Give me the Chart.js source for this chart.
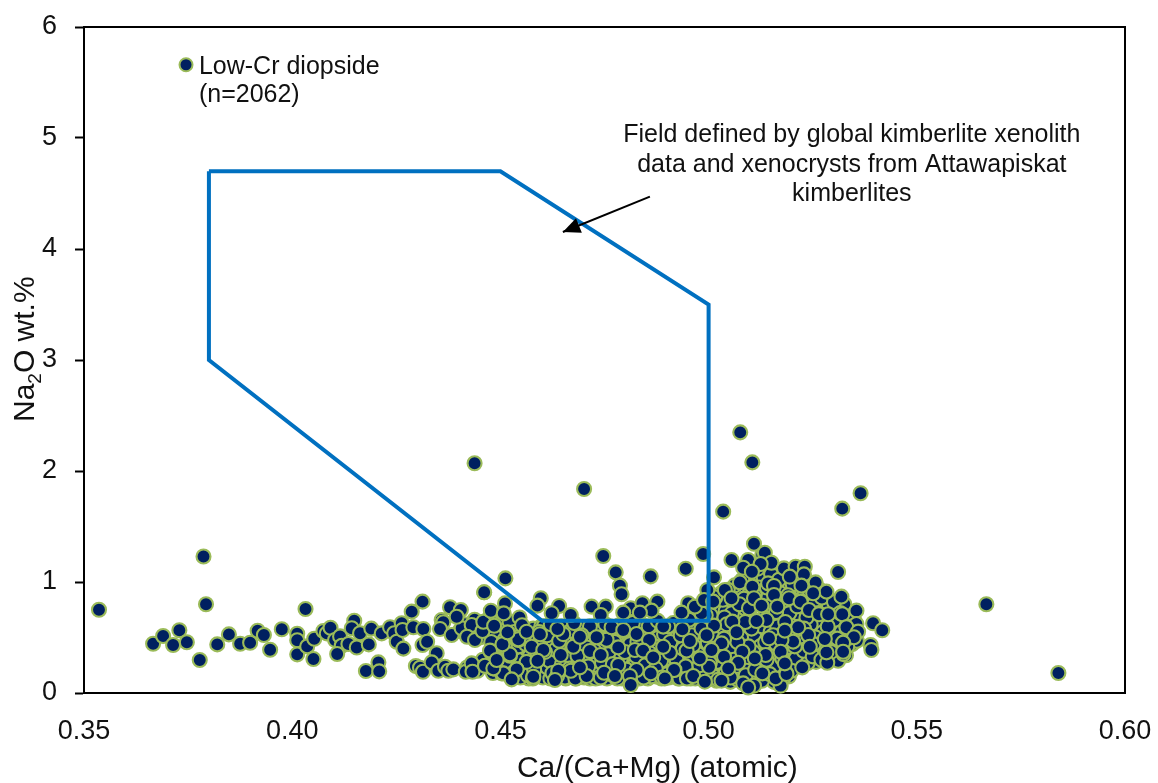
<!DOCTYPE html>
<html>
<head>
<meta charset="utf-8">
<title>Low-Cr diopside</title>
<script src="https://cdn.jsdelivr.net/npm/chart.js@4/dist/chart.umd.min.js"></script>
<style>
  html, body { margin: 0; padding: 0; background: #fff; }
  canvas { display: block; }
</style>
</head>
<body>
<canvas id="myChart" width="1158" height="783"></canvas>
<script>
// Các giá trị
const xTickLabels = ['0.35', '0.40', '0.45', '0.50', '0.55', '0.60'];
const yTickLabels = ['0', '1', '2', '3', '4', '5', '6'];

// Field polygon (Ca/(Ca+Mg), Na2O)
const fieldX = [0.38, 0.45, 0.50, 0.50, 0.46, 0.38, 0.38];
const fieldY = [4.7, 4.7, 3.5, 0.65, 0.65, 3.0, 4.7];

// Arrow from the note to the field
const arrowX = [0.4859, 0.4650];
const arrowY = [4.472, 4.153];

const noteLines = ['Field defined by global kimberlite xenolith', 'data and xenocrysts from Attawapiskat', 'kimberlites'];

// Deepest layer of the cloud, mostly only the green rims show
const backgroundPoints = [
  [.4556,.19],[.4559,.37],[.4563,.52],[.4568,.13],[.4572,.27],[.4575,.46],[.4579,.58],[.4584,.15],[.4587,.31],[.4591,.42],
  [.4595,.20],[.4598,.60],[.4602,.14],[.4606,.34],[.4609,.48],[.4613,.23],[.4617,.56],[.4620,.13],[.4624,.41],[.4628,.30],
  [.4631,.52],[.4635,.19],[.4639,.14],[.4642,.36],[.4646,.60],[.4650,.44],[.4653,.24],[.4657,.13],[.4660,.50],[.4664,.31],
  [.4668,.17],[.4672,.39],[.4675,.57],[.4679,.26],[.4682,.13],[.4686,.47],[.4690,.34],[.4693,.59],[.4697,.20],[.4701,.14],
  [.4704,.42],[.4708,.53],[.4712,.30],[.4715,.13],[.4719,.18],[.4722,.47],[.4726,.60],[.4730,.26],[.4733,.37],[.4737,.14],
  [.4741,.56],[.4745,.21],[.4748,.42],[.4752,.32],[.4756,.13],[.4759,.52],[.4763,.60],[.4767,.25],[.4770,.38],[.4774,.15],
  [.4778,.49],[.4781,.30],[.4785,.20],[.4788,.57],[.4792,.13],[.4796,.42],[.4799,.27],[.4803,.61],[.4807,.35],[.4810,.52],
  [.4814,.18],[.4818,.13],[.4821,.47],[.4825,.28],[.4829,.58],[.4832,.39],[.4836,.15],[.4840,.24],[.4843,.61],[.4847,.44],
  [.4851,.33],[.4854,.13],[.4858,.55],[.4862,.21],[.4865,.40],[.4869,.60],[.4873,.15],[.4876,.29],[.4880,.50],[.4884,.37],
  [.4887,.13],[.4891,.23],[.4894,.58],[.4898,.44],[.4902,.31],[.4905,.14],[.4909,.52],[.4913,.19],[.4916,.39],[.4920,.60],
  [.4924,.27],[.4927,.13],[.4931,.47],[.4935,.34],[.4938,.58],[.4942,.16],[.4946,.42],[.4949,.24],[.4953,.55],[.4957,.13],
  [.4960,.31],[.4964,.62],[.4968,.47],[.4971,.19],[.4975,.39],[.4979,.14],[.4982,.55],[.4986,.27],[.4990,.64],[.4993,.41],
  [.4997,.12],[.5001,.33],[.5004,.54],[.5008,.19],[.5012,.44],[.5015,.75],[.5019,.11],[.5022,.62],[.5026,.30],[.5030,.90],
  [.5033,.48],[.5037,.15],[.5041,.74],[.5044,.38],[.5048,.56],[.5052,.10],[.5055,.25],[.5059,.82],[.5062,.47],[.5066,.67],
  [.5070,.17],[.5073,.35],[.5077,.92],[.5080,.56],[.5084,.10],[.5088,.76],[.5091,.28],[.5095,.44],[.5099,.90],[.5102,.68],
  [.5106,.13],[.5109,.52],[.5113,1.02],[.5117,.30],[.5120,.80],[.5124,.42],[.5128,.60],[.5131,1.05],[.5135,.16],[.5138,.88],
  [.5142,.38],[.5146,.70],[.5149,.55],[.5153,.97],[.5157,.10],[.5160,.30],[.5164,.84],[.5167,.47],[.5171,.68],[.5175,.21],
  [.5178,1.00],[.5182,.56],[.5185,.38],[.5189,.82],[.5193,.15],[.5196,.62],[.5200,.46],[.5204,.90],[.5207,.26],[.5211,.72],
  [.5214,1.02],[.5218,.38],[.5222,.55],[.5225,.92],[.5229,.30],[.5233,.76],[.5236,.47],[.5240,.62],[.5243,.85],[.5247,.36],
  [.5251,.54],[.5254,.70],[.5258,.28],[.5261,.88],[.5265,.44],[.5269,.60],[.5272,.78],[.5276,.36],[.5280,.52],[.5283,.84],
  [.5287,.30],[.5290,.66],[.5294,.44],[.5298,.76],[.5301,.56],[.5305,.38],[.5308,.72],[.5312,.48],[.5316,.62],[.5319,.40],
  [.5323,.76],[.5327,.52],[.5330,.34],[.5334,.64],[.5337,.46],[.5341,.58],[.5345,.44],[.5349,.66],[.5352,.54],[.5356,.47],
  [.4402,.56],[.4414,.62],[.4426,.52],[.4438,.66],[.4450,.50],[.4462,.58],[.4474,.68],[.4486,.52],[.4498,.62],[.4510,.48],
  [.4522,.64],[.4534,.55],[.4546,.68],[.4420,.23],[.4445,.20],[.4458,.30],[.4470,.25],[.4482,.18],[.4494,.23],[.4506,.33],
  [.4518,.27],[.4530,.18],[.4542,.30],[.4548,.14],[.4532,.40],[.4514,.40],[.4496,.43],[.4478,.46],[.4544,.42],[.4550,.52]
];

// Next layer, the packed part of the cloud
const packedPoints = [
  [.4552,.61],[.4561,.44],[.4570,.33],[.4558,.24],[.4566,.16],[.4581,.21],[.4589,.36],[.4596,.47],[.4604,.60],[.4612,.52],
  [.4618,.29],[.4625,.18],[.4632,.39],[.4641,.47],[.4648,.26],[.4655,.14],[.4662,.34],[.4669,.56],[.4677,.63],[.4684,.44],
  [.4692,.16],[.4700,.29],[.4707,.41],[.4715,.60],[.4722,.21],[.4729,.13],[.4737,.50],[.4744,.27],[.4752,.62],[.4759,.35],
  [.4766,.17],[.4774,.46],[.4781,.13],[.4789,.31],[.4796,.56],[.4803,.21],[.4811,.44],[.4818,.63],[.4826,.33],[.4833,.13],
  [.4841,.52],[.4848,.25],[.4856,.60],[.4863,.15],[.4871,.42],[.4878,.65],[.4886,.29],[.4893,.53],[.4900,.17],[.4908,.46],
  [.4915,.63],[.4923,.30],[.4930,.13],[.4938,.40],[.4945,.24],[.4953,.66],[.4960,.52],[.4968,.13],[.4975,.35],[.4983,.58],
  [.4990,.21],[.4998,.45],[.5005,.70],[.5012,.15],[.5020,.28],[.5027,.58],[.5034,.84],[.5041,.18],[.5049,.40],[.5056,.72],
  [.5063,.97],[.5070,.12],[.5078,.50],[.5085,.85],[.5092,.20],[.5099,1.03],[.5107,.37],[.5114,.65],[.5121,.95],[.5128,.11],
  [.5136,.46],[.5143,.78],[.5150,1.07],[.5158,.24],[.5165,.60],[.5172,.90],[.5180,.14],[.5187,.41],[.5194,.72],[.5202,.98],
  [.5209,.31],[.5216,.50],[.5224,.85],[.5231,1.02],[.5238,.27],[.5245,.62],[.5253,.80],[.5260,.40],[.5267,.93],[.5275,.55],
  [.5282,.33],[.5289,.78],[.5297,.46],[.5304,.66],[.5311,.29],[.5319,.55],[.5326,.80],[.5333,.42],[.5341,.68],[.5348,.60],
  [.4563,.28],[.4578,.13],[.4593,.55],[.4607,.37],[.4621,.62],[.4636,.15],[.4651,.53],[.4666,.22],[.4680,.13],[.4695,.52],
  [.4711,.24],[.4726,.38],[.4741,.14],[.4755,.48],[.4770,.26],[.4785,.61],[.4799,.37],[.4814,.14],[.4829,.46],[.4844,.14],
  [.4858,.36],[.4873,.22],[.4888,.14],[.4903,.60],[.4918,.21],[.4933,.52],[.4948,.13],[.4963,.43],[.4978,.25],[.4993,.70],
  [.5008,.52],[.5016,.86],[.5023,.12],[.5031,.34],[.5038,.68],[.5046,.93],[.5053,.14],[.5060,.30],[.5067,.62],[.5074,.80],
  [.5081,1.02],[.5089,.16],[.5096,.42],[.5103,.58],[.5111,.88],[.5118,1.12],[.5125,.26],[.5133,.68],[.5140,.95],[.5147,.17],
  [.5155,.52],[.5162,.73],[.5169,1.02],[.5177,.31],[.5184,.64],[.5191,.88],[.5199,.20],[.5206,.56],[.5213,.78],[.5221,1.05],
  [.5228,.38],[.5235,.68],[.5243,.92],[.5250,.33],[.5257,.50],[.5264,.72],[.5272,.86],[.5279,.42],[.5286,.60],[.5294,.37],
  [.5301,.82],[.5309,.49],[.5316,.72],[.5324,.35],[.5331,.60],[.5339,.50],[.5069,.46],[.5088,.64],[.5112,.21],[.5139,.30],
  [.5163,.44],[.5186,.18],[.5207,.42],[.5229,.58],[.5252,.44],[.5271,.30],[.5044,.62],[.5037,.49],[.5015,.40],[.5003,.27]
];

// Points read one by one, left part up to about 0.455
const leftPoints = [
  [.3536,.75],[.3787,1.23],[.3793,.80],[.3666,.444],[.369,.513],[.3714,.432],[.3729,.565],[.3747,.457],[.3778,.297],[.382,.438],
  [.3848,.528],[.3875,.444],[.3899,.453],[.3917,.561],[.3932,.522],[.3947,.39],[.3975,.574],[.4012,.534],[.4012,.475],[.4012,.348],
  [.4032,.757],[.4036,.42],[.4053,.489],[.4051,.306],[.4075,.559],[.4083,.537],[.4092,.588],[.4103,.477],[.4115,.51],[.4119,.426],
  [.4108,.351],[.4135,.441],[.4155,.41],[.4149,.651],[.4143,.583],[.4163,.538],[.4184,.438],[.419,.58],[.4215,.537],[.4177,.198],
  [.4207,.276],[.4209,.195],[.4235,.592],[.4245,.538],[.4251,.462],[.4267,.4],[.4263,.628],[.4265,.568],[.4287,.733],[.4313,.823],
  [.4291,.592],[.4315,.577],[.4313,.432],[.4324,.462],[.4347,.358],[.4297,.243],[.4307,.228],[.4314,.192],[.4335,.276],[.4351,.201],
  [.4367,.237],[.4375,.201],[.4387,.213],[.4417,.192],[.4431,.267],[.4433,.192],[.4465,.246],[.4379,.772],[.4405,.748],[.4359,.658],
  [.4363,.637],[.4355,.577],[.4383,.523],[.4407,.583],[.4395,.687],[.4431,.613],[.442,.507],[.4439,.477],[.4457,.559],[.4461,.907],
  [.4459,.642],[.4477,.741],[.4485,.606],[.4512,1.033],[.4511,.807],[.4508,.717],[.4519,.538],[.4505,.438],[.4523,.336],[.4477,.372],
  [.4491,.297],[.4483,.222],[.4503,.177],[.4539,.213],[.4527,.132],[.4543,.477],[.4438,2.07]
];

// Points read one by one, right part of the cloud and the outliers
const rightPoints = [
  [.5076,2.348],[.5105,2.078],[.4701,1.838],[.5365,1.799],[.5321,1.661],[.5035,1.634],[.5109,1.345],[.4747,1.234],[.4987,1.252],[.4945,1.12],
  [.4777,1.087],[.4861,1.051],[.5013,1.042],[.5129,1.243],[.5135,1.264],[.5055,1.198],[.5095,1.198],[.5151,1.174],[.5125,1.162],[.5083,1.129],
  [.5181,1.123],[.5209,1.138],[.5231,1.138],[.5104,1.093],[.5195,1.048],[.5229,1.069],[.5311,1.09],[.5075,.997],[.5143,.988],[.5157,.964],
  [.5105,.958],[.5223,.967],[.5257,.997],[.5283,.913],[.5251,.898],[.5319,.868],[.5039,.928],[.4997,.928],[.4787,.967],[.4791,.889],
  [.4461,.907],[.4597,.853],[.4589,.787],[.4641,.784],[.4719,.778],[.4753,.778],[.4813,.763],[.4841,.808],[.4877,.823],[.4863,.742],
  [.4835,.724],[.4795,.724],[.4741,.703],[.4669,.703],[.4623,.718],[.4951,.808],[.4935,.724],[.4983,.718],[.4967,.778],[.4989,.838],
  [.5011,.823],[.5055,.853],[.5097,.763],[.5109,.853],[.5127,.787],[.5157,.883],[.5193,.853],[.5221,.823],[.5165,.778],[.5241,.748],
  [.5265,.709],[.5287,.709],[.5321,.709],[.5355,.742],[.5395,.628],[.5417,.565],[.5389,.432],[.5391,.387],[.5355,.622],[.5331,.592],
  [.5359,.553],[.5349,.502],[.5323,.454],[.5323,.372],[.5285,.273],[.5283,.366],[.5279,.487],[.5239,.523],[.5243,.417],[.5225,.231],
  [.5215,.592],[.5203,.463],[.5175,.477],[.5173,.372],[.5183,.562],[.5139,.658],[.5115,.649],[.5057,.643],[.5013,.607],[.5067,.547],
  [.4995,.52],[.5031,.447],[.5007,.387],[.5081,.372],[.5037,.327],[.5137,.342],[.5145,.493],[.5111,.312],[.5071,.273],[.5047,.222],
  [.5001,.237],[.5031,.111],[.5083,.087],[.5109,.066],[.5095,.05],[.5173,.066],[.5161,.132],[.5187,.171],[.5183,.267],[.5129,.177],
  [.4963,.153],[.4917,.207],[.4861,.177],[.4827,.207],[.4811,.153],[.4813,.072],[.4783,.252],[.4749,.183],[.4707,.153],[.4669,.201],
  [.4639,.201],[.4579,.147],[.4539,.213],[.4507,.177],[.4463,.246],[.4483,.222],[.4527,.123],[.4631,.117],[.4775,.153],[.4895,.132],
  [.4991,.102],[.4475,.382],[.4491,.297],[.4523,.348],[.4505,.439],[.4543,.484],[.4517,.546],[.4563,.552],[.4595,.529],[.4637,.577],
  [.4575,.417],[.4603,.387],[.4589,.291],[.4645,.342],[.4685,.336],[.4675,.417],[.4691,.507],[.4731,.502],[.4767,.592],[.4795,.568],
  [.4827,.532],[.4783,.411],[.4715,.378],[.4741,.342],[.4691,.231],[.4823,.387],[.4857,.477],[.4843,.382],[.4867,.321],[.4907,.363],
  [.4891,.417],[.4947,.382],[.4955,.468],[.4937,.574],[.4891,.598],[.4979,.312],[.5667,.80],[.5840,.18]
];

const allPoints = backgroundPoints.concat(packedPoints, leftPoints, rightPoints);

const fontName = '"Liberation Sans", Arial, sans-serif';
const markerFill = '#002060';
const markerEdge = '#9BBB59';
const textColor = '#111';

// Vẽ khung, đầu mũi tên, chú thích, legend và tiêu đề trục
const notesPlugin = {
    id: 'notesPlugin',
    afterDatasetsDraw(chart) {
        const { ctx, chartArea, scales } = chart;
        const { x, y } = scales;

        ctx.save();
        ctx.strokeStyle = '#000';
        ctx.lineWidth = 2;
        ctx.beginPath();
        ctx.moveTo(chartArea.left, chartArea.top);
        ctx.lineTo(chartArea.right, chartArea.top);
        ctx.lineTo(chartArea.right, chartArea.bottom);
        ctx.stroke();

        // Đầu mũi tên
        const tipX = x.getPixelForValue(arrowX[1]);
        const tipY = y.getPixelForValue(arrowY[1]);
        const tailX = x.getPixelForValue(arrowX[0]);
        const tailY = y.getPixelForValue(arrowY[0]);
        const angle = Math.atan2(tailY - tipY, tailX - tipX);
        ctx.fillStyle = '#000';
        ctx.beginPath();
        ctx.moveTo(tipX, tipY);
        ctx.lineTo(tipX + 19 * Math.cos(angle - 0.42), tipY + 19 * Math.sin(angle - 0.42));
        ctx.lineTo(tipX + 19 * Math.cos(angle + 0.42), tipY + 19 * Math.sin(angle + 0.42));
        ctx.closePath();
        ctx.fill();

        // Chú thích
        ctx.font = '25px ' + fontName;
        ctx.fillStyle = textColor;
        ctx.textAlign = 'center';
        ctx.textBaseline = 'alphabetic';
        const noteX = x.getPixelForValue(0.5344);
        [4.964, 4.698, 4.432].forEach((v, i) => {
            ctx.fillText(noteLines[i], noteX, y.getPixelForValue(v));
        });

        // Legend
        const legendX = x.getPixelForValue(0.3745);
        const legendY = y.getPixelForValue(5.66);
        ctx.beginPath();
        ctx.arc(legendX, legendY, 6.5, 0, Math.PI * 2);
        ctx.fillStyle = markerFill;
        ctx.fill();
        ctx.lineWidth = 2;
        ctx.strokeStyle = markerEdge;
        ctx.stroke();

        ctx.fillStyle = textColor;
        ctx.textAlign = 'left';
        const legendTextX = x.getPixelForValue(0.3776);
        ctx.fillText('Low-Cr diopside', legendTextX, y.getPixelForValue(5.581));
        ctx.fillText('(n=2062)', legendTextX, y.getPixelForValue(5.32));

        // Tiêu đề trục x
        ctx.font = '30px ' + fontName;
        ctx.textAlign = 'center';
        ctx.fillText('Ca/(Ca+Mg) (atomic)', x.getPixelForValue(0.4877), chartArea.bottom + 84);

        // Tiêu đề trục y, số 2 nhỏ hơn và thấp hơn
        ctx.translate(34, 422);
        ctx.rotate(-Math.PI / 2);
        ctx.textAlign = 'left';
        let pos = 0;
        ctx.font = '30px ' + fontName;
        ctx.fillText('Na', pos, 0);
        pos += ctx.measureText('Na').width;
        ctx.font = '19px ' + fontName;
        ctx.fillText('2', pos, 7);
        pos += ctx.measureText('2').width;
        ctx.font = '30px ' + fontName;
        ctx.fillText('O wt.%', pos, 0);
        ctx.restore();
    }
};

const ctx = document.getElementById('myChart').getContext('2d');
const myChart = new Chart(ctx, {
    type: 'scatter',
    data: {
        datasets: [{
            label: 'Arrow',
            type: 'line',
            data: arrowX.map((v, i) => ({ x: v, y: arrowY[i] })),
            borderColor: '#000',
            borderWidth: 2,
            pointRadius: 0,
            fill: false,
            order: 0
        }, {
            label: 'Field',
            type: 'line',
            data: fieldX.map((v, i) => ({ x: v, y: fieldY[i] })),
            borderColor: '#0070C0',
            borderWidth: 4,
            pointRadius: 0,
            fill: false,
            tension: 0,
            borderJoinStyle: 'miter',
            order: 1
        }, {
            label: 'Low-Cr diopside',
            data: allPoints.map(p => ({ x: p[0], y: p[1] })),
            backgroundColor: markerFill,
            borderColor: markerEdge,
            borderWidth: 2.1,
            pointRadius: 7,
            clip: false,
            order: 2
        }]
    },
    options: {
        responsive: false,
        animation: false,
        layout: { padding: { top: 27, right: 33, left: 0, bottom: 0 } },
        plugins: {
            legend: { display: false },
            tooltip: { enabled: false }
        },
        scales: {
            x: {
                type: 'linear',
                min: 0.35,
                max: 0.6,
                afterFit: s => {
                    s.height = 90;
                    s.paddingLeft = 0;
                    s.paddingRight = 0;
                },
                ticks: {
                    stepSize: 0.05,
                    color: textColor,
                    padding: 22,
                    maxRotation: 0,
                    font: { family: fontName, size: 27 },
                    callback: (v, i) => xTickLabels[i]
                },
                grid: { drawOnChartArea: false, drawTicks: false },
                border: { color: '#000', width: 2 }
            },
            y: {
                min: 0,
                max: 6,
                afterFit: s => {
                    s.width = 84;
                    s.paddingTop = 0;
                    s.paddingBottom = 0;
                },
                ticks: {
                    stepSize: 1,
                    color: textColor,
                    padding: 18,
                    font: { family: fontName, size: 27 },
                    callback: (v, i) => yTickLabels[i]
                },
                grid: { drawOnChartArea: false, drawTicks: true, tickLength: 9, tickColor: '#000', tickWidth: 2 },
                border: { color: '#000', width: 2 }
            }
        }
    },
    plugins: [notesPlugin]
});
</script>
</body>
</html>
